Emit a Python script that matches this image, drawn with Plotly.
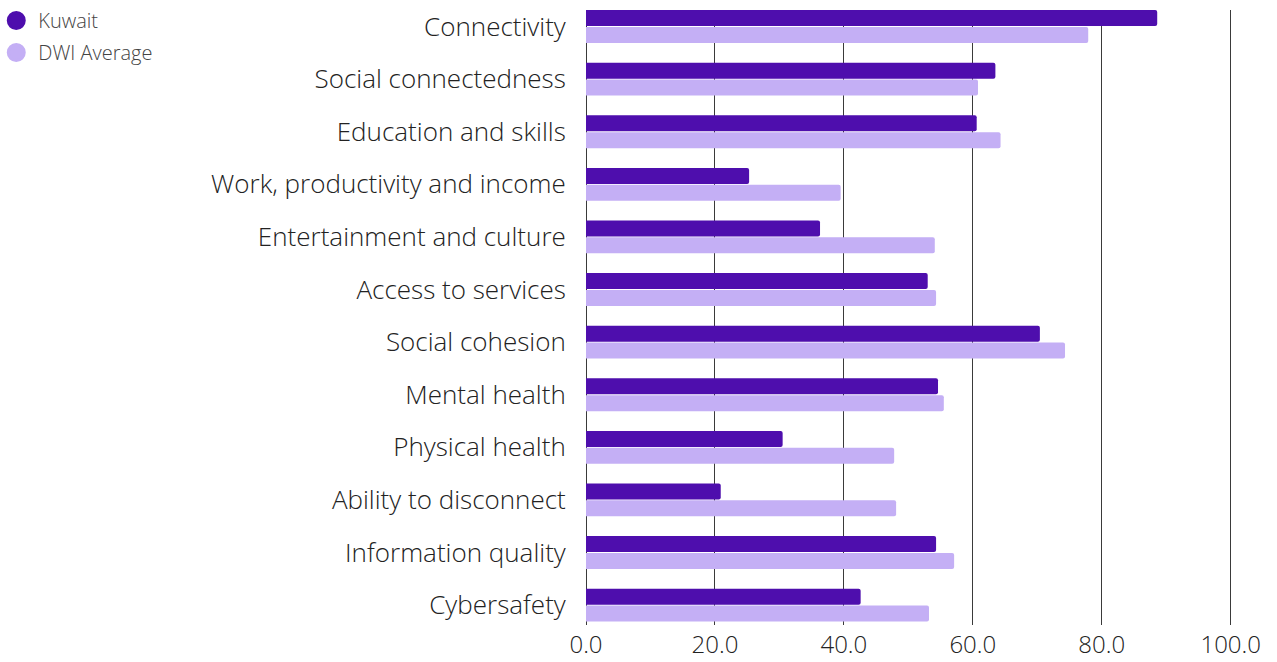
import plotly.graph_objects as go

categories = ["Connectivity", "Social connectedness", "Education and skills",
              "Work, productivity and income", "Entertainment and culture",
              "Access to services", "Social cohesion", "Mental health",
              "Physical health", "Ability to disconnect", "Information quality",
              "Cybersafety"]
kuwait = [88.6, 63.5, 60.6, 25.3, 36.3, 53.0, 70.4, 54.6, 30.5, 20.9, 54.3, 42.6]
dwi_avg = [77.9, 60.8, 64.3, 39.5, 54.1, 54.3, 74.3, 55.5, 47.8, 48.1, 57.1, 53.2]
x_ticks = [0, 20, 40, 60, 80, 100]

DARK = "#4E0EAD"
LIGHT = "#C4AFF5"
FONT = "Open Sans"

fig = go.Figure()
fig.add_trace(go.Bar(y=categories, x=kuwait, orientation="h", name="Kuwait",
                     marker=dict(color=DARK, line=dict(width=0)), showlegend=False))
fig.add_trace(go.Bar(y=categories, x=dwi_avg, orientation="h", name="DWI Average",
                     marker=dict(color=LIGHT, line=dict(width=0)), showlegend=False))
# legend entries with circle markers
fig.add_trace(go.Scatter(x=[None], y=[None], mode="markers", name="Kuwait",
                         legendgroup="a",
                         marker=dict(symbol="circle", size=16, color=DARK,
                                     line=dict(color=DARK, width=3))))
fig.add_trace(go.Scatter(x=[None], y=[None], mode="markers", name="DWI Average",
                         legendgroup="b",
                         marker=dict(symbol="circle", size=16, color=LIGHT,
                                     line=dict(color=LIGHT, width=3))))

fig.update_layout(
    width=1277, height=662,
    margin=dict(l=586, r=45, t=10, b=37, autoexpand=False),
    paper_bgcolor="white", plot_bgcolor="white",
    barmode="group", bargap=0.36, bargroupgap=0.05, barcornerradius=2,
    font=dict(family=FONT, color="#222222"),
    showlegend=True,
    legend=dict(x=-0.916, y=1.0146, xanchor="left", yanchor="top",
                font=dict(size=20, color="#444444", family=FONT, weight=300),
                bgcolor="rgba(0,0,0,0)", tracegroupgap=3, itemsizing="trace",
                itemwidth=34),
    xaxis=dict(range=[0, 100.2], tickvals=x_ticks, tickformat=".1f",
               showgrid=True, gridcolor="#3a3a3a", gridwidth=1,
               zeroline=True, zerolinecolor="#3a3a3a", zerolinewidth=1,
               showline=False, ticks="", ticklabelstandoff=3,
               automargin=False,
               tickfont=dict(size=24, color="#222222", family=FONT, weight=300)),
    yaxis=dict(type="category", categoryorder="array", categoryarray=categories,
               range=[11.378, -0.314], showgrid=False, zeroline=False,
               ticks="outside", ticklen=14, tickcolor="rgba(0,0,0,0)",
               automargin=False,
               tickfont=dict(size=26, color="#222222", family=FONT, weight=300)),
)

fig.write_html("out.html")
